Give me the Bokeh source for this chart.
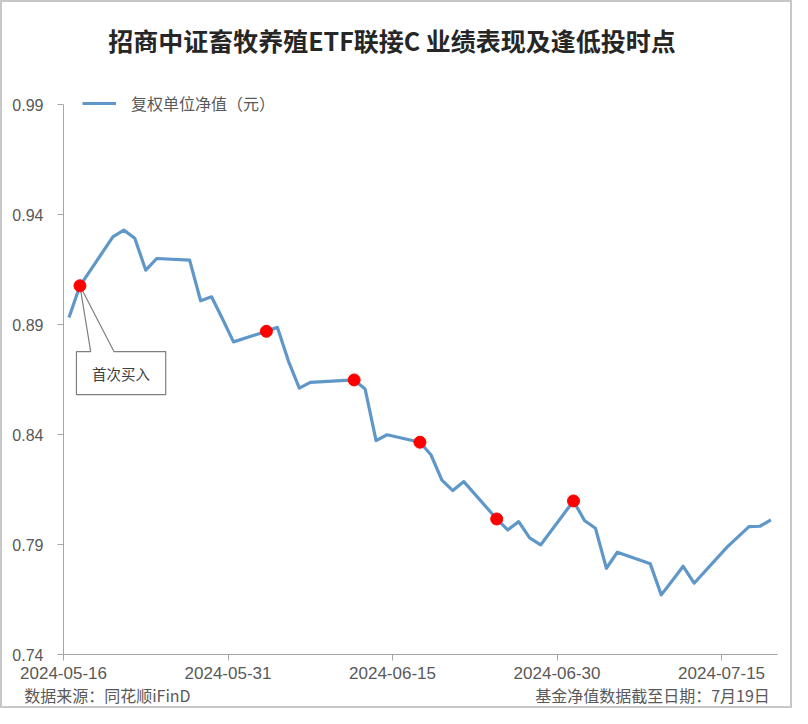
import pandas as pd
from bokeh.plotting import figure
from bokeh.models import (ColumnDataSource, FixedTicker, DatetimeTickFormatter,
                          PrintfTickFormatter, Label, Legend, LegendItem, Range1d,
                          LinearAxis)
from bokeh.embed import file_html
from bokeh.resources import INLINE

# ---------------- data ----------------
title_text = "招商中证畜牧养殖ETF联接C 业绩表现及逢低投时点"
series_name = "复权单位净值（元）"
source_note = "数据来源：同花顺iFinD"
date_note = "基金净值数据截至日期：7月19日"
callout_text = "首次买入"

dates = ["2024-05-16", "2024-05-17", "2024-05-20", "2024-05-21", "2024-05-22",
         "2024-05-23", "2024-05-24", "2024-05-27", "2024-05-28", "2024-05-29",
         "2024-05-30", "2024-05-31", "2024-06-03", "2024-06-04", "2024-06-05",
         "2024-06-06", "2024-06-07", "2024-06-11", "2024-06-12", "2024-06-13",
         "2024-06-14", "2024-06-17", "2024-06-18", "2024-06-19", "2024-06-20",
         "2024-06-21", "2024-06-24", "2024-06-25", "2024-06-26", "2024-06-27",
         "2024-06-28", "2024-07-01", "2024-07-02", "2024-07-03", "2024-07-04",
         "2024-07-05", "2024-07-08", "2024-07-09", "2024-07-10", "2024-07-11",
         "2024-07-12", "2024-07-15", "2024-07-16", "2024-07-17", "2024-07-18",
         "2024-07-19"]
nav = [0.8932, 0.9076, 0.9298, 0.9329, 0.9292,
       0.9147, 0.9200, 0.9193, 0.9008, 0.9026,
       0.8925, 0.8821, 0.8869, 0.8887, 0.8735,
       0.8611, 0.8637, 0.8648, 0.8607, 0.8372,
       0.8399, 0.8365, 0.8308, 0.8193, 0.8145,
       0.8186, 0.8016, 0.7966, 0.8004, 0.7930,
       0.7898, 0.8098, 0.8009, 0.7974, 0.7792,
       0.7865, 0.7812, 0.7671, 0.7735, 0.7801,
       0.7724, 0.7888, 0.7935, 0.7981, 0.7983,
       0.8012]
buy_dates = ["2024-05-17", "2024-06-03", "2024-06-11", "2024-06-17",
             "2024-06-24", "2024-07-01"]
x_tick_labels = ["2024-05-16", "2024-05-31", "2024-06-15", "2024-06-30", "2024-07-15"]
y_ticks = [0.74, 0.79, 0.84, 0.89, 0.94, 0.99]

# ---------------- helpers ----------------
DAY_MS = 86400000.0


def ms(s):
    return pd.Timestamp(s).value / 1e6


# points sit in the middle of each day (date axis, between tick marks)
x_vals = [ms(d) + DAY_MS / 2 for d in dates]
nav_by_date = dict(zip(dates, nav))
buy_x = [ms(d) + DAY_MS / 2 for d in buy_dates]
buy_y = [nav_by_date[d] for d in buy_dates]

x_start = ms(x_tick_labels[0])
x_end = x_start + 65.1 * DAY_MS
y_top = y_ticks[-1] + 0.0091   # headroom (about 20px) so the legend is not clipped

src = ColumnDataSource(dict(x=x_vals, y=nav))
buy_src = ColumnDataSource(dict(x=buy_x, y=buy_y))

FONT_CJK = "Noto Sans CJK SC"
FONT_NUM = "Liberation Sans"
GRAY_TXT = "#595959"
AXIS_CLR = "#a6a6a6"

p = figure(width=792, height=708, output_backend="svg", toolbar_location=None,
           title=None, x_axis_type="datetime",
           x_range=Range1d(x_start, x_end), y_range=Range1d(y_ticks[0], y_top),
           min_border_left=61, min_border_right=17, min_border_top=82,
           min_border_bottom=56)
p.styles = {"border": "2px solid #c8c8c8"}
p.outline_line_color = None
p.grid.visible = False
p.background_fill_color = "white"
p.border_fill_color = "white"

# axes
p.xaxis.ticker = FixedTicker(ticks=[ms(s) for s in x_tick_labels])
fmt = "%Y-%m-%d"
p.xaxis.formatter = DatetimeTickFormatter(milliseconds=fmt, seconds=fmt, minsec=fmt,
                                          minutes=fmt, hourmin=fmt, hours=fmt,
                                          days=fmt, months=fmt, years=fmt)
p.yaxis.ticker = FixedTicker(ticks=y_ticks)
p.yaxis.formatter = PrintfTickFormatter(format="%.2f")
p.yaxis.bounds = (y_ticks[0], y_ticks[-1])
for ax in (p.xaxis, p.yaxis):
    ax.axis_line_color = AXIS_CLR
    ax.axis_line_width = 1
    ax.major_tick_line_color = AXIS_CLR
    ax.major_tick_in = 0
    ax.major_tick_out = 6
    ax.minor_tick_line_color = None
    ax.major_label_text_color = GRAY_TXT
    ax.major_label_text_font = FONT_NUM
p.xaxis.major_label_text_font_size = "17px"
p.yaxis.major_label_text_font_size = "16px"
p.xaxis.major_label_standoff = 6
p.yaxis.major_label_standoff = 14


def text_axis(positions, texts, size, standoff, color, style="normal"):
    """A bare axis whose tick labels carry free text (title / footnotes)."""
    return LinearAxis(ticker=FixedTicker(ticks=positions),
                      major_label_overrides=dict(zip(positions, texts)),
                      axis_line_color=None, major_tick_line_color=None,
                      minor_tick_line_color=None, major_tick_in=0, major_tick_out=0,
                      major_label_standoff=standoff, major_label_text_font=FONT_CJK,
                      major_label_text_font_size=size,
                      major_label_text_font_style=style,
                      major_label_text_color=color)


# title line above the frame
title_x = int(x_start + 29.95 * DAY_MS)
p.add_layout(text_axis([title_x], [title_text], "25px", 27, "#262626", "bold"), "above")

# footer line below the date labels
left_note_x = int(x_start + 4.0 * DAY_MS)
right_note_x = int(x_start + 53.7 * DAY_MS)
p.add_layout(text_axis([left_note_x, right_note_x], [source_note, date_note],
                       "16px", 1, GRAY_TXT), "below")

# series line
line_r = p.line("x", "y", source=src, line_color="#5f97c9", line_width=3.2,
                line_join="round")

# callout "首次买入" attached to the first buy point
tip_x, tip_y = buy_x[0], buy_y[0]
bx0 = x_start + 1.18 * DAY_MS
bx1 = x_start + 9.32 * DAY_MS
pl = x_start + 2.48 * DAY_MS
pr = x_start + 4.60 * DAY_MS
by_top, by_bot = 0.8777, 0.8581
p.patch([bx0, pl, tip_x, pr, bx1, bx1, bx0],
        [by_top, by_top, tip_y, by_top, by_top, by_bot, by_bot],
        fill_color="white", line_color="#7f7f7f", line_width=1.2)
p.add_layout(Label(x=(bx0 + bx1) / 2, y=(by_top + by_bot) / 2, text=callout_text,
                   text_align="center", text_baseline="middle",
                   text_font=FONT_CJK, text_font_size="14.5px", text_color="#404040"))

# buy markers
p.scatter("x", "y", source=buy_src, size=12, fill_color="#ff0000",
          line_color="#ff0000")

# legend (item centred on the 0.99 level)
legend = Legend(items=[LegendItem(label=series_name, renderers=[line_r])],
                location=(19, 539), padding=0, margin=0, spacing=0,
                glyph_width=34, glyph_height=20, label_height=20,
                label_standoff=15, label_text_font=FONT_CJK,
                label_text_font_size="16px", label_text_color=GRAY_TXT,
                background_fill_alpha=0, border_line_color=None)
p.add_layout(legend)

open("out.html", "w").write(file_html(p, INLINE))
